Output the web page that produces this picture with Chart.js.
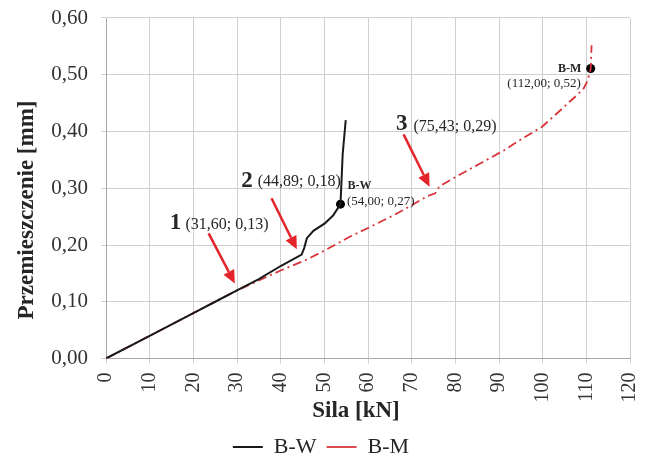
<!DOCTYPE html>
<html><head><meta charset="utf-8">
<script src="https://cdn.jsdelivr.net/npm/chart.js@4.4.1/dist/chart.umd.min.js"></script>
<style>html,body{margin:0;padding:0;background:#fff;}#wrap{width:663px;height:458px;}</style>
</head><body><div id="wrap"><canvas id="c" width="663" height="458"></canvas></div>
<script>
// ---- data ----
const xTickValues = [0,10,20,30,40,50,60,70,80,90,100,110,120];
const yTickLabels = ['0,00','0,10','0,20','0,30','0,40','0,50','0,60'];
const seriesNames = ['B-W','B-M'];
const bwForce = [0,10,20,25,30,35,40,44.8,45.4,46.0,47.5,50.1,52,53.7,54.2,54.9];
const bwDisp  = [0,0.04,0.08,0.10,0.12,0.14,0.163,0.183,0.195,0.212,0.225,0.238,0.252,0.272,0.36,0.42];
const bmForce = [0,10,20,30,40,45.6,50,55.7,60,65.8,70,73.6,75.4,76.3,81.5,86,91.2,95,99.8,103,106.1,108,109.4,110.3,111,111.2];
const bmDisp  = [0,0.04,0.08,0.12,0.155,0.173,0.19,0.214,0.23,0.252,0.27,0.286,0.291,0.303,0.326,0.345,0.367,0.386,0.408,0.43,0.452,0.465,0.476,0.49,0.51,0.552];
const endForce = [53.7, 111.0];
const endDisp  = [0.272, 0.511];
const pointNumbers = ['1','2','3'];
const pointTexts = ['(31,60; 0,13)','(44,89; 0,18)','(75,43; 0,29)'];
const endLabels = ['B-W','B-M'];
const endTexts = ['(54,00; 0,27)','(112,00; 0,52)'];
const xTitle = 'Sila [kN]';
const yTitle = 'Przemieszczenie [mm]';

const toXY = (xs, ys) => xs.map((v,i)=>({x:v, y:ys[i]}));
const SERIF = '"Liberation Serif","Times New Roman",serif';
const RED = '#e3242b';

// annotation placement (data units of the axes)
const numPos  = [[14.6,0.239],[31.0,0.3134],[66.4,0.4129]];
const textPos = [[18.2,0.2352],[34.75,0.3106],[70.4,0.4087]];
const arrows  = [[[23.5,0.2206],[29.5,0.1323]],[[37.9,0.2823],[43.7,0.1923]],[[68.15,0.395],[74.1,0.3028]]];
const endLabelPos = [[55.3,0.3046],[103.5,0.510]];
const endTextPos  = [[55.2,0.2763],[91.9,0.4853]];

const annotPlugin = {
  id:'annot',
  afterInit(chart){
    const lg = chart.legend;
    if (lg) { const f = lg.fit.bind(lg); lg.fit = function(){ f(); this.height = 32; }; }
  },
  afterDatasetsDraw(chart){
    const {ctx, scales:{x,y}} = chart;
    const P = (p)=>[x.getPixelForValue(p[0]), y.getPixelForValue(p[1])];
    ctx.save();
    ctx.textBaseline = 'middle';
    ctx.textAlign = 'left';
    ctx.fillStyle = '#262626';
    pointNumbers.forEach((t,i)=>{
      const [px,py] = P(numPos[i]);
      ctx.font = 'bold 23px ' + SERIF;
      ctx.fillText(t, px, py);
      const [tx,ty] = P(textPos[i]);
      ctx.font = '16px ' + SERIF;
      ctx.fillText(pointTexts[i], tx, ty);
    });
    endLabels.forEach((t,i)=>{
      const [px,py] = P(endLabelPos[i]);
      ctx.font = 'bold 12px ' + SERIF;
      ctx.fillText(t, px, py);
      const [tx,ty] = P(endTextPos[i]);
      ctx.font = '13px ' + SERIF;
      ctx.fillText(endTexts[i], tx, ty);
    });
    arrows.forEach(a=>{
      const [x1,y1] = P(a[0]); const [x2,y2] = P(a[1]);
      const ang = Math.atan2(y2-y1, x2-x1);
      const hl = 13, hw = 6;
      const bx = x2 - hl*Math.cos(ang), by = y2 - hl*Math.sin(ang);
      ctx.strokeStyle = RED; ctx.fillStyle = RED; ctx.lineWidth = 2.5;
      ctx.beginPath(); ctx.moveTo(x1,y1); ctx.lineTo(bx,by); ctx.stroke();
      ctx.beginPath();
      ctx.moveTo(x2,y2);
      ctx.lineTo(bx + hw*Math.sin(ang), by - hw*Math.cos(ang));
      ctx.lineTo(bx - hw*Math.sin(ang), by + hw*Math.cos(ang));
      ctx.closePath(); ctx.fill();
    });
    ctx.restore();
  },
  afterDraw(chart){
    const {ctx} = chart;
    ctx.save();
    ctx.fillStyle = '#262626';
    ctx.font = 'bold 23px ' + SERIF;
    ctx.textAlign = 'center'; ctx.textBaseline = 'middle';
    ctx.fillText(xTitle, 356, 411);
    ctx.translate(27, 210); ctx.rotate(-Math.PI/2);
    ctx.fillText(yTitle, 0, 0);
    ctx.restore();
  }
};

new Chart(document.getElementById('c'), {
  type:'scatter',
  data:{datasets:[
    {label:seriesNames[0], data:toXY(bwForce,bwDisp), showLine:true, borderColor:'#1a1a1a', backgroundColor:'#1a1a1a', borderWidth:2, pointRadius:0, pointStyle:'line'},
    {label:seriesNames[1], data:toXY(bmForce,bmDisp), showLine:true, borderColor:'#d8353a', backgroundColor:'#d8353a', borderWidth:1.8, borderDash:[9,4,2,4], pointRadius:0, pointStyle:'line'},
    {label:'end', data:toXY(endForce,endDisp), showLine:false, pointRadius:4.5, pointBackgroundColor:'#000', pointBorderColor:'#000', pointBorderWidth:0}
  ]},
  options:{
    responsive:false, animation:false, devicePixelRatio:1,
    layout:{padding:{left:0,right:21,top:18,bottom:0}},
    plugins:{
      legend:{position:'bottom', labels:{filter:(it)=>it.datasetIndex<2, usePointStyle:true, pointStyle:'line', pointStyleWidth:30, boxHeight:22, padding:10, color:'#262626', font:{family:SERIF,size:22}}},
      tooltip:{enabled:false}
    },
    scales:{
      x:{type:'linear', min:0, max:120,
        afterBuildTicks:(s)=>{s.ticks = xTickValues.map(v=>({value:v}));},
        afterFit:(s)=>{s.height = 67.5;},
        grid:{color:'#cfcfcf', lineWidth:1, tickLength:5},
        border:{color:'#a8a8a8'},
        ticks:{minRotation:90, maxRotation:90, padding:9, color:'#333', font:{family:SERIF,size:20}, callback:(v)=>String(v)}
      },
      y:{type:'linear', min:0, max:0.6,
        afterBuildTicks:(s)=>{s.ticks = yTickLabels.map((l,i)=>({value:i*0.1}));},
        afterFit:(s)=>{s.width = 106;},
        grid:{color:'#cfcfcf', lineWidth:1, tickLength:5},
        border:{color:'#a8a8a8'},
        ticks:{padding:13, color:'#333', font:{family:SERIF,size:21,lineHeight:0.45}, callback:(v,i)=>yTickLabels[i]}
      }
    }
  },
  plugins:[annotPlugin]
});
</script></body></html>
